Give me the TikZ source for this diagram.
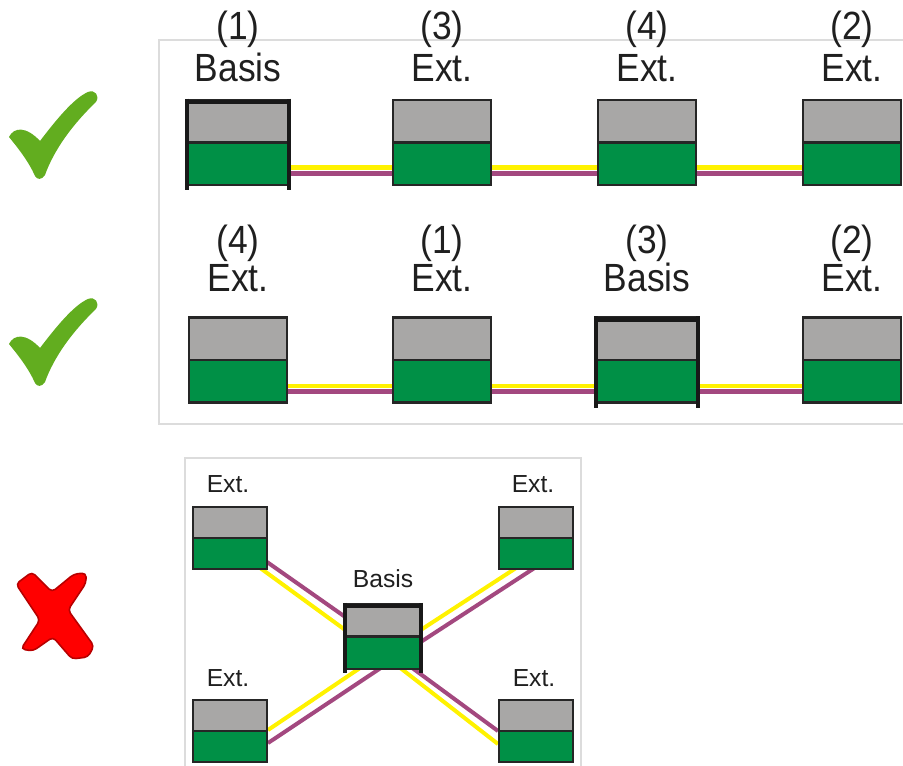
\documentclass[tikz,border=0pt]{standalone}
\usepackage{fontspec}
\setmainfont{Liberation Sans}
\newfontfamily\narrowsans[FakeStretch=0.9]{Liberation Sans}
\usetikzlibrary{backgrounds}
\definecolor{modgray}{HTML}{A8A7A6}
\definecolor{modgreen}{HTML}{009046}
\definecolor{cabyellow}{HTML}{FFF200}
\definecolor{cabpurple}{HTML}{A3487F}
\definecolor{okgreen}{HTML}{62AD1F}
\definecolor{nored}{HTML}{FF0000}
\definecolor{nodark}{HTML}{B80000}
\definecolor{panelgray}{HTML}{DCDCDC}

\begin{document}
\begin{tikzpicture}[x=0.75pt, y=-0.75pt,
    module/.style={draw=black!85, line width=1.8pt, fill=modgray, inner sep=0pt,
                   minimum width=73.5pt, minimum height=64pt,
                   path picture={\fill[modgreen] (path picture bounding box.west) rectangle (path picture bounding box.south east);
                                 \draw[black!85, line width=1.8pt] (path picture bounding box.west) -- (path picture bounding box.east);}},
    basis/.style={module, minimum width=76pt},
    minimod/.style={module, line width=1.5pt, minimum width=55.5pt, minimum height=46.5pt},
    minibasis/.style={minimod, minimum width=57pt, minimum height=49pt},
    rim/.style={black!90, line width=3pt},
    lbl/.style={font=\narrowsans\fontsize{29.5}{34}\selectfont, text=black!88, inner sep=0pt, anchor=base},
    minilbl/.style={font=\fontsize{18.5}{22}\selectfont, text=black!88, inner sep=0pt, anchor=base},
    yel/.style={cabyellow, line width=3.6pt},
    pur/.style={cabpurple, line width=3.6pt},
    panel/.style={panelgray, line width=0.9pt}
  ]
  \useasboundingbox (0,0) rectangle (903,766);

  % first row: basis at the end
  \node[basis]  (rA1) at (238,142.5) {};
  \node[module] (rA2) at (442,142.5) {};
  \node[module] (rA3) at (647,142.5) {};
  \node[module] (rA4) at (852,142.5) {};
  \node[lbl] (nA1) at (238,40) {(1)};
  \node[lbl] (tA1) at (238,81.7) {Basis};
  \node[lbl] (nA2) at (442,40) {(3)};
  \node[lbl] (tA2) at (442,81.7) {Ext.};
  \node[lbl] (nA3) at (647,40) {(4)};
  \node[lbl] (tA3) at (647,81.7) {Ext.};
  \node[lbl] (nA4) at (852,40) {(2)};
  \node[lbl] (tA4) at (852,81.7) {Ext.};

  % second row: basis in the middle
  \node[module] (rB1) at (238,360) {};
  \node[module] (rB2) at (442,360) {};
  \node[basis]  (rB3) at (647,360) {};
  \node[module] (rB4) at (852,360) {};
  \node[lbl] (nB1) at (238,253.5) {(4)};
  \node[lbl] (tB1) at (238,291.7) {Ext.};
  \node[lbl] (nB2) at (442,253.5) {(1)};
  \node[lbl] (tB2) at (442,291.7) {Ext.};
  \node[lbl] (nB3) at (647,253.5) {(3)};
  \node[lbl] (tB3) at (647,291.7) {Basis};
  \node[lbl] (nB4) at (852,253.5) {(2)};
  \node[lbl] (tB4) at (852,291.7) {Ext.};

  % star wiring (wrong)
  \node[minibasis] (sBas) at (383,636.5) {};
  \node[minimod]   (sTL)  at (230,538) {};
  \node[minimod]   (sTR)  at (536,538) {};
  \node[minimod]   (sBL)  at (230,731) {};
  \node[minimod]   (sBR)  at (536,731) {};
  \node[minilbl] (lBas) at (383,587) {Basis};
  \node[minilbl] (lTL)  at (228,492) {Ext.};
  \node[minilbl] (lTR)  at (533,492) {Ext.};
  \node[minilbl] (lBL)  at (228,686) {Ext.};
  \node[minilbl] (lBR)  at (534,686) {Ext.};

  % housing of the basis modules
  \foreach \n in {rA1,rB3} {
    \draw[rim] ([shift={(1,0)}]\n.north west) -- ([shift={(1,4)}]\n.south west);
    \draw[rim] ([shift={(-1,0)}]\n.north east) -- ([shift={(-1,4)}]\n.south east);
    \draw[black!90, line width=3.5pt] ([shift={(2,3.5)}]\n.north west) -- ([shift={(-2,3.5)}]\n.north east);
  }
  \draw[rim, line width=2.4pt] ([shift={(1,0)}]sBas.north west) -- ([shift={(1,3)}]sBas.south west);
  \draw[rim, line width=2.4pt] ([shift={(-1,0)}]sBas.north east) -- ([shift={(-1,3)}]sBas.south east);
  \draw[black!90, line width=2.8pt] ([shift={(2,3)}]sBas.north west) -- ([shift={(-2,3)}]sBas.north east);

  % check marks and cross
  \foreach \dy in {0,207} {
    \fill[okgreen, shift={(0,\dy)}] (9,137) .. controls (14,127) and (26,126) .. (40,141)
      .. controls (56,120) and (74,98) .. (88,92)
      .. controls (95,89) and (100,96) .. (96,102)
      .. controls (72,125) and (54,150) .. (45,175)
      .. controls (42,180) and (37,180) .. (35,176)
      .. controls (29,162) and (18,148) .. cycle;
  }
  \filldraw[fill=nored, draw=nodark, line width=1.2pt, rounded corners=3pt]
    (16,584) -- (32,572) -- (52,592) -- (74,574) -- (86,573) -- (86,583) -- (68,610)
    -- (94,646) -- (88,657) -- (72,659) -- (53,637) -- (33,651) -- (21,649)
    -- (40,620) -- cycle;

  \begin{pgfonlayer}{background}
    \draw[panel] (159,40) rectangle (912,424);
    \draw[panel] (185,458) rectangle (581,780);
    % bus cables
    \draw[yel] ([shift={(0,25)}]rA1.east) -- ([shift={(0,25)}]rA1.east -| rA2.west);
    \draw[pur] ([shift={(0,31)}]rA1.east) -- ([shift={(0,31)}]rA1.east -| rA2.west);
    \draw[yel] ([shift={(0,25)}]rA2.east) -- ([shift={(0,25)}]rA2.east -| rA3.west);
    \draw[pur] ([shift={(0,31)}]rA2.east) -- ([shift={(0,31)}]rA2.east -| rA3.west);
    \draw[yel] ([shift={(0,25)}]rA3.east) -- ([shift={(0,25)}]rA3.east -| rA4.west);
    \draw[pur] ([shift={(0,31)}]rA3.east) -- ([shift={(0,31)}]rA3.east -| rA4.west);
    \draw[yel] ([shift={(0,26)}]rB1.east) -- ([shift={(0,26)}]rB1.east -| rB2.west);
    \draw[pur] ([shift={(0,31.5)}]rB1.east) -- ([shift={(0,31.5)}]rB1.east -| rB2.west);
    \draw[yel] ([shift={(0,26)}]rB2.east) -- ([shift={(0,26)}]rB2.east -| rB3.west);
    \draw[pur] ([shift={(0,31.5)}]rB2.east) -- ([shift={(0,31.5)}]rB2.east -| rB3.west);
    \draw[yel] ([shift={(0,26)}]rB3.east) -- ([shift={(0,26)}]rB3.east -| rB4.west);
    \draw[pur] ([shift={(0,31.5)}]rB3.east) -- ([shift={(0,31.5)}]rB3.east -| rB4.west);
    % star cables
    \draw[yel, line width=3pt] ([shift={(0,8)}]sTL.center) -- ([shift={(0,21)}]sBas.center);
    \draw[pur, line width=3pt] ([shift={(0,-2)}]sTL.center) -- ([shift={(0,7)}]sBas.center);
    \draw[yel, line width=3pt] ([shift={(0,17)}]sTR.center) -- ([shift={(0,18)}]sBas.center);
    \draw[pur, line width=3pt] ([shift={(0,29)}]sTR.center) -- ([shift={(0,30)}]sBas.center);
    \draw[yel, line width=3pt] ([shift={(0,-1)}]sBL.east) -- ([shift={(0,16)}]sBas.center);
    \draw[pur, line width=3pt] ([shift={(0,12)}]sBL.east) -- ([shift={(0,30)}]sBas.center);
    \draw[yel, line width=3pt] ([shift={(0,13)}]sBR.west) -- ([shift={(0,18)}]sBas.center);
    \draw[pur, line width=3pt] ([shift={(0,0)}]sBR.west) -- ([shift={(0,10)}]sBas.center);
  \end{pgfonlayer}
\end{tikzpicture}
\end{document}
